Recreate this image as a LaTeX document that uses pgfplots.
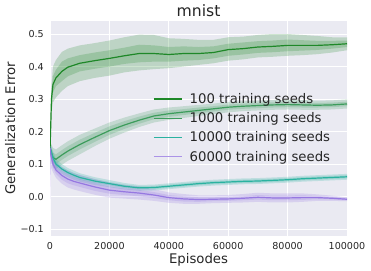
\documentclass[border=0pt]{standalone}
\usepackage{fontspec}
\setmainfont{DejaVu Sans}
\usepackage{pgfplots}
\pgfplotsset{compat=1.18}
\usepgfplotslibrary{fillbetween}
\usepackage{pgfplotstable}
\definecolor{bg}{RGB}{234,234,242}
\definecolor{tc}{RGB}{38,38,38}
\definecolor{ca}{RGB}{30,136,40}
\definecolor{cb}{RGB}{61,156,92}
\definecolor{cc}{RGB}{42,178,160}
\definecolor{cd}{RGB}{150,120,225}

\pgfplotstableread{
x m olo ilo ihi ohi
0 0.14 0.10 0.12 0.16 0.18
500 0.30 0.26 0.28 0.32 0.34
1000 0.345 0.29 0.32 0.37 0.40
2000 0.365 0.305 0.34 0.39 0.42
4000 0.385 0.325 0.355 0.415 0.445
6000 0.398 0.34 0.37 0.425 0.455
10000 0.41 0.355 0.385 0.435 0.465
15000 0.418 0.365 0.393 0.443 0.472
20000 0.425 0.372 0.40 0.45 0.48
25000 0.433 0.382 0.408 0.458 0.49
30000 0.44 0.388 0.413 0.467 0.498
35000 0.44 0.392 0.415 0.465 0.497
40000 0.437 0.395 0.415 0.46 0.487
45000 0.44 0.40 0.418 0.462 0.485
50000 0.44 0.405 0.42 0.46 0.482
55000 0.443 0.41 0.425 0.462 0.482
60000 0.452 0.418 0.433 0.47 0.49
65000 0.455 0.422 0.437 0.474 0.492
70000 0.46 0.428 0.442 0.478 0.497
75000 0.462 0.43 0.444 0.48 0.50
80000 0.465 0.433 0.447 0.483 0.50
85000 0.465 0.435 0.449 0.481 0.497
90000 0.465 0.438 0.451 0.479 0.494
95000 0.467 0.443 0.455 0.479 0.49
100000 0.47 0.45 0.46 0.48 0.49
}\sa

\pgfplotstableread{
x m olo ilo ihi ohi
0 0.15 0.13 0.14 0.16 0.17
1000 0.12 0.09 0.105 0.135 0.15
2000 0.115 0.085 0.10 0.13 0.145
4000 0.128 0.098 0.113 0.143 0.158
6000 0.14 0.11 0.125 0.155 0.17
8000 0.15 0.12 0.135 0.165 0.18
10000 0.16 0.13 0.145 0.175 0.19
15000 0.182 0.155 0.168 0.196 0.209
20000 0.203 0.178 0.19 0.216 0.228
25000 0.22 0.197 0.208 0.232 0.243
30000 0.235 0.214 0.224 0.246 0.256
35000 0.248 0.228 0.238 0.258 0.268
40000 0.255 0.236 0.245 0.265 0.274
45000 0.26 0.242 0.251 0.269 0.278
50000 0.265 0.248 0.256 0.274 0.282
55000 0.27 0.254 0.262 0.278 0.286
60000 0.275 0.259 0.267 0.283 0.291
65000 0.278 0.263 0.27 0.286 0.293
70000 0.28 0.265 0.272 0.288 0.295
75000 0.282 0.267 0.274 0.29 0.297
80000 0.283 0.268 0.275 0.291 0.298
85000 0.282 0.267 0.274 0.29 0.297
90000 0.281 0.267 0.274 0.288 0.295
95000 0.282 0.268 0.275 0.289 0.296
100000 0.285 0.271 0.278 0.292 0.299
}\sb

\pgfplotstableread{
x m olo ilo ihi ohi
0 0.15 0.13 0.14 0.16 0.17
1000 0.12 0.10 0.11 0.13 0.14
2000 0.10 0.085 0.093 0.107 0.115
4000 0.085 0.07 0.078 0.092 0.10
6000 0.074 0.06 0.067 0.081 0.088
8000 0.066 0.052 0.059 0.073 0.08
10000 0.059 0.046 0.052 0.066 0.072
15000 0.048 0.036 0.042 0.054 0.06
20000 0.04 0.029 0.035 0.045 0.051
25000 0.032 0.022 0.027 0.037 0.042
30000 0.027 0.018 0.022 0.032 0.036
35000 0.028 0.019 0.023 0.033 0.037
40000 0.032 0.023 0.027 0.037 0.041
45000 0.036 0.027 0.031 0.041 0.045
50000 0.04 0.031 0.035 0.045 0.049
55000 0.043 0.034 0.038 0.048 0.052
60000 0.045 0.036 0.04 0.05 0.054
65000 0.047 0.038 0.042 0.052 0.056
70000 0.048 0.039 0.043 0.053 0.057
75000 0.05 0.041 0.045 0.055 0.059
80000 0.052 0.043 0.047 0.057 0.061
85000 0.055 0.046 0.05 0.06 0.064
90000 0.057 0.048 0.052 0.062 0.066
95000 0.059 0.05 0.054 0.064 0.068
100000 0.061 0.052 0.056 0.066 0.07
}\scc

\pgfplotstableread{
x m olo ilo ihi ohi
0 0.15 -0.045 0.05 0.16 0.17
300 0.13 0.09 0.11 0.145 0.16
1000 0.10 0.075 0.088 0.112 0.125
2000 0.082 0.058 0.07 0.094 0.106
4000 0.065 0.04 0.052 0.078 0.09
6000 0.054 0.028 0.041 0.067 0.08
8000 0.047 0.022 0.035 0.059 0.072
10000 0.042 0.017 0.03 0.054 0.067
15000 0.03 0.006 0.018 0.042 0.054
20000 0.02 -0.003 0.009 0.031 0.043
25000 0.015 -0.006 0.005 0.025 0.036
30000 0.011 -0.009 0.001 0.021 0.031
35000 0.005 -0.013 -0.004 0.014 0.023
40000 -0.003 -0.019 -0.011 0.005 0.013
45000 -0.007 -0.022 -0.015 0.001 0.008
50000 -0.009 -0.022 -0.016 -0.002 0.004
55000 -0.008 -0.02 -0.014 -0.002 0.004
60000 -0.007 -0.019 -0.013 -0.001 0.005
65000 -0.005 -0.018 -0.011 0.001 0.008
70000 -0.002 -0.016 -0.009 0.005 0.012
75000 -0.004 -0.018 -0.011 0.003 0.01
80000 -0.004 -0.018 -0.011 0.003 0.01
85000 -0.003 -0.016 -0.01 0.004 0.01
90000 -0.003 -0.013 -0.008 0.002 0.007
95000 -0.005 -0.013 -0.009 -0.001 0.003
100000 -0.008 -0.014 -0.011 -0.005 -0.002
}\sd

\begin{document}
\begin{tikzpicture}
\begin{axis}[
  at={(0,0)}, anchor=south west,
  scale only axis, width=297bp, height=215bp,
  xmin=0, xmax=100000, ymin=-0.121, ymax=0.54,
  axis background/.style={fill=bg},
  axis line style={draw=none},
  major tick length=0pt,
  grid=major, grid style={white, line width=1bp},
  xtick={0,20000,40000,60000,80000,100000},
  xticklabels={0,20000,40000,60000,80000,100000},
  scaled x ticks=false, scaled y ticks=false,
  ytick={-0.1,0,0.1,0.2,0.3,0.4,0.5},
  yticklabels={−0.1,0.0,0.1,0.2,0.3,0.4,0.5},
  xticklabel style={font=\fontsize{9.6}{10}\selectfont, text=tc, anchor=base, yshift=-13bp},
  yticklabel style={font=\fontsize{9.6}{10}\selectfont, text=tc, anchor=east, inner sep=0pt, xshift=-6bp},
  title=mnist,
  every axis title shift=0pt,
  title style={font=\fontsize{15.7}{17}\selectfont, text=tc, at={(axis description cs:0.5,1)}, anchor=base, yshift=4.5bp},
  xlabel=Episodes,
  xlabel style={font=\fontsize{13.3}{15}\selectfont, text=tc, at={(axis description cs:0.5,0)}, anchor=base, yshift=-27bp},
  ylabel=Generalization Error,
  ylabel style={font=\fontsize{13.3}{15}\selectfont, text=tc, at={(axis description cs:-0.1178,0.5)}, anchor=base},
  legend style={draw=none, fill=none, at={(axis description cs:0.347,0.665)}, anchor=north west,
    font=\fontsize{13.3}{15}\selectfont, text=tc, inner sep=0pt, row sep=7.7bp, column sep=7bp, nodes={inner sep=0pt}},
  legend image code/.code={\draw[#1] (0bp,0bp) -- (28bp,0bp);},
  legend cell align=left,
]
% 100
\addplot[draw=none, forget plot, name path=a1] table[x=x,y=olo]{\sa};
\addplot[draw=none, forget plot, name path=a2] table[x=x,y=ilo]{\sa};
\addplot[draw=none, forget plot, name path=a3] table[x=x,y=ihi]{\sa};
\addplot[draw=none, forget plot, name path=a4] table[x=x,y=ohi]{\sa};
\addplot[fill=ca, fill opacity=0.22, draw=none, forget plot] fill between[of=a1 and a4];
\addplot[fill=ca, fill opacity=0.22, draw=none, forget plot] fill between[of=a2 and a3];
\addplot[ca, line width=1.2bp, forget plot] table[x=x,y=m]{\sa};
% 1000
\addplot[draw=none, forget plot, name path=b1] table[x=x,y=olo]{\sb};
\addplot[draw=none, forget plot, name path=b2] table[x=x,y=ilo]{\sb};
\addplot[draw=none, forget plot, name path=b3] table[x=x,y=ihi]{\sb};
\addplot[draw=none, forget plot, name path=b4] table[x=x,y=ohi]{\sb};
\addplot[fill=cb, fill opacity=0.22, draw=none, forget plot] fill between[of=b1 and b4];
\addplot[fill=cb, fill opacity=0.22, draw=none, forget plot] fill between[of=b2 and b3];
\addplot[cb, line width=1.2bp, forget plot] table[x=x,y=m]{\sb};
% 10000
\addplot[draw=none, forget plot, name path=c1] table[x=x,y=olo]{\scc};
\addplot[draw=none, forget plot, name path=c2] table[x=x,y=ilo]{\scc};
\addplot[draw=none, forget plot, name path=c3] table[x=x,y=ihi]{\scc};
\addplot[draw=none, forget plot, name path=c4] table[x=x,y=ohi]{\scc};
\addplot[fill=cc, fill opacity=0.22, draw=none, forget plot] fill between[of=c1 and c4];
\addplot[fill=cc, fill opacity=0.22, draw=none, forget plot] fill between[of=c2 and c3];
\addplot[cc, line width=1.2bp, forget plot] table[x=x,y=m]{\scc};
% 60000
\addplot[draw=none, forget plot, name path=d1] table[x=x,y=olo]{\sd};
\addplot[draw=none, forget plot, name path=d2] table[x=x,y=ilo]{\sd};
\addplot[draw=none, forget plot, name path=d3] table[x=x,y=ihi]{\sd};
\addplot[draw=none, forget plot, name path=d4] table[x=x,y=ohi]{\sd};
\addplot[fill=cd, fill opacity=0.22, draw=none, forget plot] fill between[of=d1 and d4];
\addplot[fill=cd, fill opacity=0.22, draw=none, forget plot] fill between[of=d2 and d3];
\addplot[cd, line width=1.2bp, forget plot] table[x=x,y=m]{\sd};
\addlegendimage{ca, line width=1.4bp}
\addlegendentry{100 training seeds}
\addlegendimage{cb, line width=1.4bp}
\addlegendentry{1000 training seeds}
\addlegendimage{cc, line width=1.4bp}
\addlegendentry{10000 training seeds}
\addlegendimage{cd!80!white, line width=1.4bp}
\addlegendentry{60000 training seeds}
\end{axis}
\pgfresetboundingbox
\useasboundingbox (-50bp,-35bp) rectangle (321bp,236bp);
\end{tikzpicture}
\end{document}
